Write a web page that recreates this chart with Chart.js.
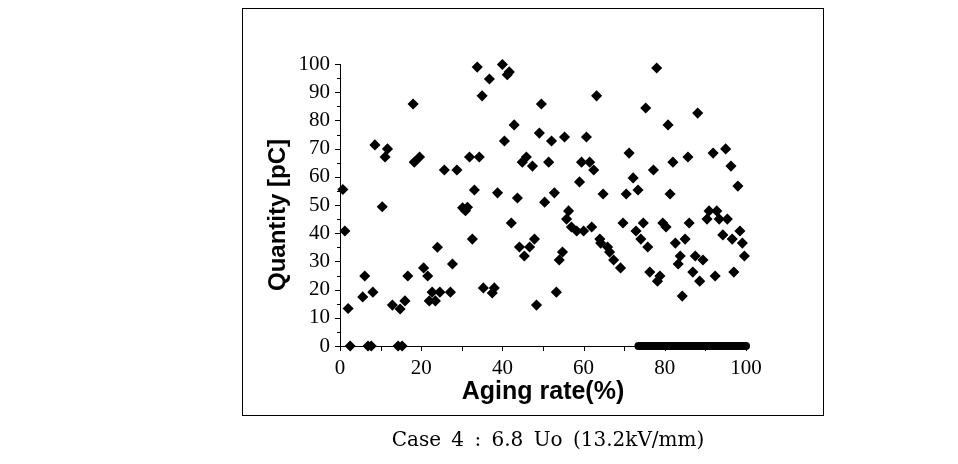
<!DOCTYPE html>
<html>
<head>
<meta charset="utf-8">
<script src="https://cdn.jsdelivr.net/npm/chart.js@4"></script>
<style>
  html, body { margin: 0; padding: 0; background: #fff; }
  #wrap { position: relative; width: 958px; height: 464px; }
  #frame { position: absolute; left: 242px; top: 8px; width: 580px; height: 406px; border: 1px solid #000; }
  #chart { position: absolute; left: 0; top: 0; }
  #caption { position: absolute; left: 0; width: 1096px; top: 427px; text-align: center;
    font-family: "DejaVu Serif", serif; font-size: 20px; word-spacing: 4px; color: #000; }
</style>
</head>
<body>
<div id="wrap">
  <div id="frame"></div>
  <canvas id="chart" width="958" height="464"></canvas>
  <div id="caption">Case 4 : 6.8 Uo (13.2kV/mm)</div>
</div>
<script>
// Aging rate (%) and charge quantity (pC)
const agingRate = [
  0.7, 1.2, 2, 2.5, 5.6, 6.1, 6.9, 7.7, 8.1, 8.6, 10.4, 11.1, 11.7, 12.9, 14.3, 14.8, 15.3, 16, 16.7, 18,
  18.3, 19.6, 20.6, 21.6, 22, 22.7, 23.5, 24, 24.6, 25.7, 27.2, 27.7, 28.8, 30.2, 30.9, 31.4, 31.9, 32.6, 33.1, 33.8,
  34.3, 35, 35.3, 36.8, 37.5, 38, 38.8, 40, 40.5, 41.2, 41.7, 42.2, 42.9, 43.7, 44.2, 44.9, 45.4, 45.9, 46.7, 47.4,
  47.9, 48.4, 49.1, 49.6, 50.4, 51.4, 52.1, 52.8, 53.3, 54, 54.8, 55.3, 55.8, 56.3, 57, 58.3, 59, 59.5, 60, 60.7,
  61.5, 62, 62.5, 63.2, 64, 64.2, 64.8, 65.9, 66.4, 67.4, 69.1, 69.7, 70.5, 71.2, 72.2, 72.9, 73.4, 74.1, 74.7, 75.3,
  75.8, 76.3, 77.2, 78, 78.2, 78.8, 79.5, 80.3, 80.8, 81.3, 82, 82.6, 83.3, 83.8, 84.3, 85, 85.7, 86, 86.9, 87.5,
  88.1, 88.6, 89.4, 90.4, 90.9, 91.9, 92.4, 92.8, 93.4, 94.3, 95, 95.4, 96.3, 96.6, 97, 98, 98.5, 99.1, 99.6
];
const quantity = [
  55.5, 40.8, 13.3, 0, 17.4, 24.8, 0, 0, 19.1, 71.3, 49.4, 67, 69.9, 14.5, 0, 13.1, 0, 16, 24.8, 85.8,
  65.2, 67, 27.7, 24.8, 16, 19.1, 16, 35, 19.1, 62.4, 19.1, 29.1, 62.4, 49, 48, 49.2, 67, 37.9, 55.3, 98.9,
  67, 88.7, 20.6, 94.7, 18.8, 20.6, 54.3, 99.8, 72.7, 96.2, 97.2, 43.6, 78.4, 52.5, 35.1, 65.2, 31.9, 67, 35.1, 63.8,
  37.9, 14.5, 75.5, 85.8, 51, 65.2, 72.7, 54.3, 19.1, 30.5, 33.3, 74.1, 45, 47.9, 42.2, 40.8, 58.2, 65.2, 40.8, 74.1,
  65.2, 42.2, 62.4, 88.7, 37.9, 36.5, 53.9, 35.1, 33.3, 30.5, 27.7, 43.6, 53.9, 68.4, 59.6, 40.8, 55.3, 37.9, 43.6, 84.4,
  35.1, 26.2, 62.4, 98.6, 23, 24.8, 43.6, 42.2, 78.4, 53.9, 65.2, 36.5, 29.1, 31.9, 17.7, 37.9, 67, 43.6, 26.2, 31.9,
  82.6, 23, 30.5, 45, 47.9, 68.4, 24.8, 47.9, 45, 39.4, 69.9, 45, 63.8, 37.9, 26.2, 56.7, 40.8, 36.5, 31.9
];
// dense run of zero readings along the bottom axis
const zeroRate = [
  73.5, 74, 74.5, 75, 75.5, 76, 76.5, 77, 77.5, 78, 78.5, 79, 79.5, 80, 80.5, 81, 81.5, 82, 82.5, 83,
  83.5, 84, 84.5, 85, 85.5, 86, 86.5, 87, 87.5, 88, 88.5, 89, 89.5, 90, 90.5, 91, 91.5, 92, 92.5, 93,
  93.5, 94, 94.5, 95, 95.5, 96, 96.5, 97, 97.5, 98, 98.5, 99, 99.5, 100
];
const xTickLabels = [0, 20, 40, 60, 80, 100];
const yTickLabels = [0, 10, 20, 30, 40, 50, 60, 70, 80, 90, 100];

const points = agingRate.map((x, i) => ({ x: x, y: quantity[i] }));
const zeroPoints = zeroRate.map(x => ({ x: x, y: 0 }));

// small outward tick marks (major + minor) like the original plot
const tickMarks = {
  id: 'tickMarks',
  afterDraw(chart) {
    const c = chart.ctx, xs = chart.scales.x, ys = chart.scales.y;
    const a = chart.chartArea;
    c.save();
    c.strokeStyle = '#000';
    c.lineWidth = 1;
    c.beginPath();
    for (let v = 0; v <= 100; v += 5) {
      const py = Math.round(ys.getPixelForValue(v)) + 0.5;
      const len = v % 10 === 0 ? 5 : 3;
      c.moveTo(a.left, py); c.lineTo(a.left - len, py);
    }
    for (let v = 0; v <= 100; v += 10) {
      const px = Math.round(xs.getPixelForValue(v)) + 0.5;
      c.moveTo(px, a.bottom); c.lineTo(px, a.bottom + 5);
    }
    c.stroke();
    c.restore();
  }
};

new Chart(document.getElementById('chart'), {
  type: 'scatter',
  data: {
    datasets: [{
      data: points,
      pointStyle: 'rectRot',
      pointRadius: 4.5,
      pointHoverRadius: 4.5,
      backgroundColor: '#000',
      borderColor: '#000',
      borderWidth: 1.5,
      clip: false
    }, {
      data: zeroPoints,
      pointStyle: 'circle',
      pointRadius: 4,
      pointHoverRadius: 4,
      backgroundColor: '#000',
      borderColor: '#000',
      borderWidth: 0,
      clip: false
    }]
  },
  options: {
    responsive: false,
    animation: false,
    events: [],
    layout: { padding: { left: 250, top: 64, right: 212, bottom: 48 } },
    plugins: { legend: { display: false }, tooltip: { enabled: false } },
    scales: {
      x: {
        type: 'linear', min: 0, max: 100,
        afterBuildTicks(s) { s.ticks = xTickLabels.map(v => ({ value: v })); },
        afterFit(s) { s.height = 70; s.paddingLeft = 0; s.paddingRight = 0; },
        grid: { display: false, drawTicks: false },
        border: { display: true, color: '#000', width: 1 },
        ticks: { color: '#000', padding: 10, maxRotation: 0,
          font: { family: '"Liberation Serif", serif', size: 21 } },
        title: { display: true, text: 'Aging rate(%)', color: '#000', padding: { top: 0, bottom: 9 },
          font: { family: '"Liberation Sans", Arial, sans-serif', size: 25, weight: 'bold' } }
      },
      y: {
        type: 'linear', min: 0, max: 100,
        afterBuildTicks(s) { s.ticks = yTickLabels.map(v => ({ value: v })); },
        afterFit(s) { s.width = 90; s.paddingTop = 0; s.paddingBottom = 0; },
        grid: { display: false, drawTicks: false },
        border: { display: true, color: '#000', width: 1 },
        ticks: { color: '#000', padding: 10,
          font: { family: '"Liberation Serif", serif', size: 21 } },
        title: { display: true, text: 'Quantity [pC]   ', color: '#000', padding: { top: 14, bottom: 0 },
          font: { family: '"Liberation Sans", Arial, sans-serif', size: 24, weight: 'bold' } }
      }
    }
  },
  plugins: [tickMarks]
});
</script>
</body>
</html>
